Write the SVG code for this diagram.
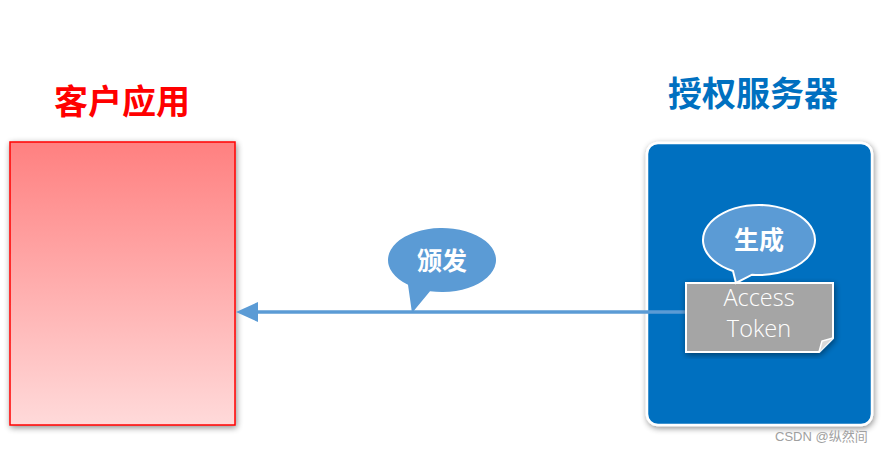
<svg xmlns="http://www.w3.org/2000/svg" width="888" height="452" viewBox="0 0 888 452">
<defs>
<linearGradient id="redGrad" x1="0" y1="0" x2="0" y2="1">
<stop offset="0" stop-color="#FF8080"/>
<stop offset="1" stop-color="#FFDADA"/>
</linearGradient>
<filter id="shadow" x="-10%" y="-10%" width="120%" height="120%">
<feGaussianBlur in="SourceAlpha" stdDeviation="3"/>
<feOffset dx="1" dy="2" result="b"/>
<feComponentTransfer><feFuncA type="linear" slope="0.45"/></feComponentTransfer>
<feMerge><feMergeNode/><feMergeNode in="SourceGraphic"/></feMerge>
</filter>
</defs>
<style>
.title{font-family:"Noto Sans CJK SC","Liberation Sans",sans-serif;font-weight:bold;font-size:34px;text-anchor:middle}
.bubble{fill:#5B9BD5}
.btxt{font-family:"Noto Sans CJK SC","Liberation Sans",sans-serif;font-weight:bold;font-size:25px;fill:#FFFFFF;text-anchor:middle}
.tok{font-family:"Open Sans","Liberation Sans",sans-serif;font-weight:300;font-size:23.5px;fill:#FFFFFF;text-anchor:middle}
</style>
<rect width="888" height="452" fill="#FFFFFF"/>
<g id="client">
<text class="title" x="122" y="114" fill="#FF0000">客户应用</text>
<rect x="10" y="142" width="225" height="283" fill="url(#redGrad)" stroke="#FF0000" stroke-width="1.5" filter="url(#shadow)"/>
</g>
<g id="server">
<text class="title" x="753" y="106" fill="#0070C0">授权服务器</text>
<rect x="647" y="143" width="225" height="282" rx="11" fill="#0070C0" stroke="#FFFFFF" stroke-width="2.5" filter="url(#shadow)"/>
</g>
<g id="connectors">
<line x1="252" y1="312" x2="694" y2="312" stroke="#5B9BD5" stroke-width="3.5"/>
<polygon points="236,312 258,302 258,322" fill="#5B9BD5"/>
</g>
<g id="token">
<path d="M686,283 H833 V338 L819,352 H686 Z" fill="#A5A5A5" stroke="#FFFFFF" stroke-width="2" filter="url(#shadow)"/>
<path d="M819,352 L822,341 L833,338" fill="#D9D9D9" stroke="#FFFFFF" stroke-width="1.5"/>
<text class="tok" x="759" y="306">Access</text>
<text class="tok" x="759" y="337">Token</text>
</g>
<g id="bubble-generate">
<path d="M733,271 A56,35 0 1 1 752,274.73 L736,283 Z" class="bubble" stroke="#FFFFFF" stroke-width="2"/>
<text class="btxt" x="759" y="249">生成</text>
</g>
<g id="bubble-issue">
<path d="M408,284.86 A54,32 0 1 1 430,291.2 L412,313 Z" class="bubble"/>
<text class="btxt" x="442" y="270">颁发</text>
</g>
<text x="775" y="441" font-family="'Liberation Sans','Noto Sans CJK SC',sans-serif" font-size="13" fill="#A0A0A0">CSDN @纵然间</text>
</svg>
